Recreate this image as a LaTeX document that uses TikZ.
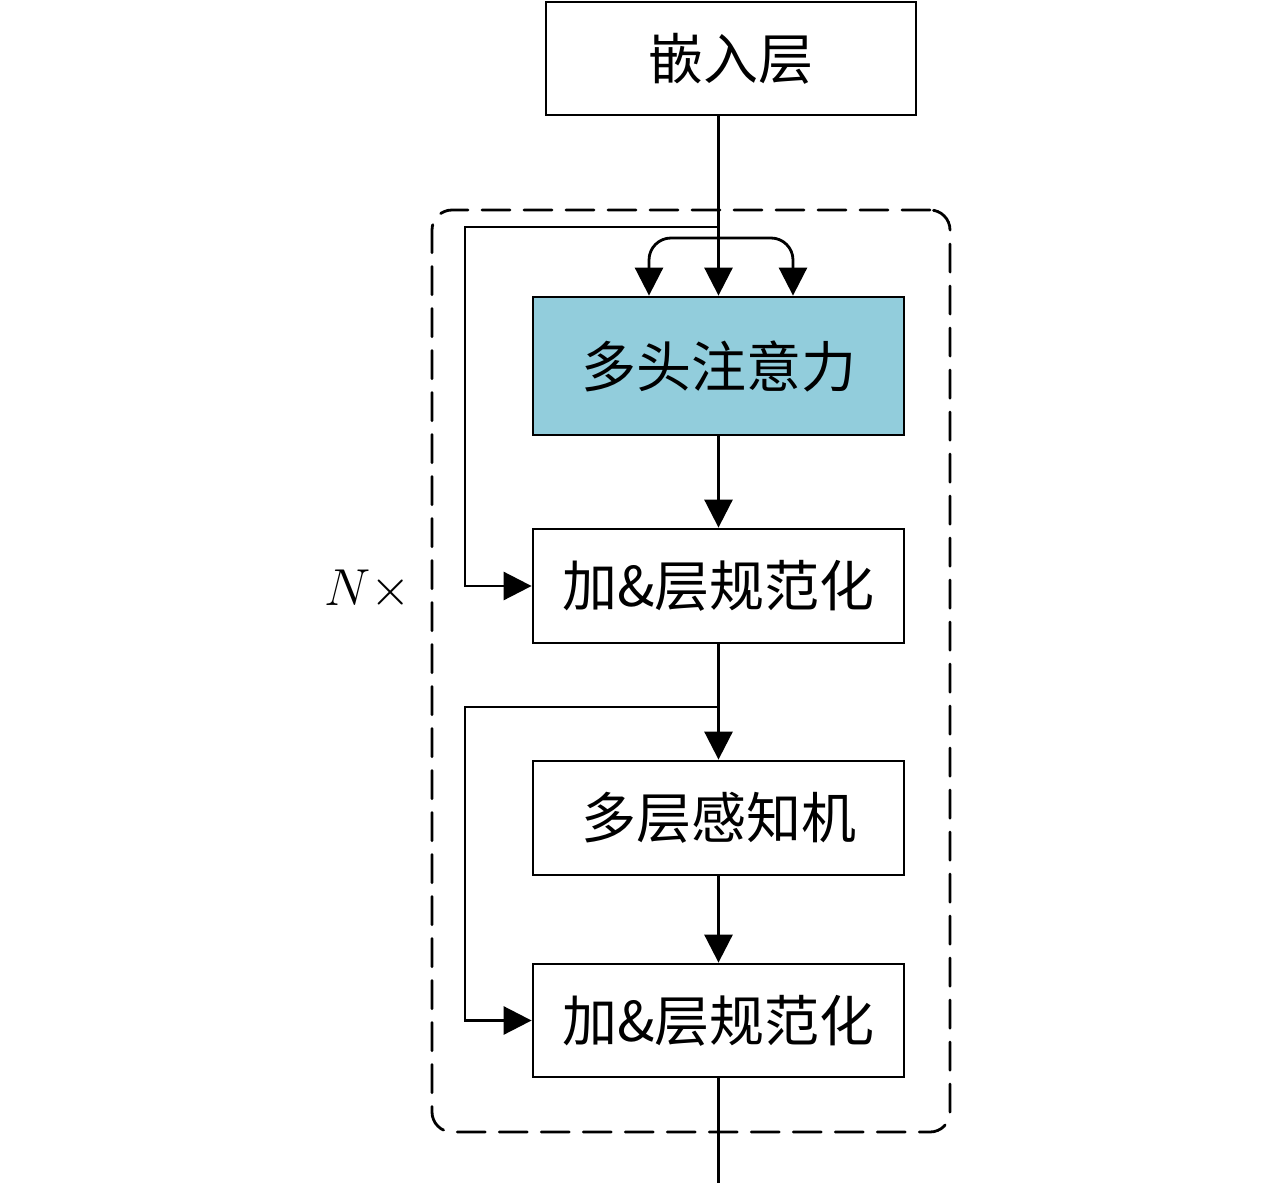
\documentclass[tikz,border=0pt]{standalone}
\usepackage{fix-cm}
\usepackage{fontspec}
\newfontfamily\cjk{Noto Sans CJK SC}
\usetikzlibrary{arrows.meta}
\definecolor{mhafill}{RGB}{146,205,220}
\begin{document}
\begin{tikzpicture}[x=1pt,y=-1pt, line width=2.8pt,
  box/.style={draw, minimum width=371pt, minimum height=114pt, inner sep=0pt,
    font=\cjk\fontsize{55}{66}\selectfont},
  arr/.style={-{Triangle[width=28pt,length=28pt]}},
  frame/.style={draw, dash pattern=on 28pt off 14pt, line cap=round, rounded corners=20pt,
    minimum width=518pt, minimum height=922pt, inner sep=0pt}]
\useasboundingbox (0,0) rectangle (1280,1185);
\node[frame] (fr) at (691,671) {};
\node[box, minimum width=370pt, minimum height=113pt] (emb) at (731,58.5) {嵌入层};
\node[box, fill=mhafill, minimum height=138pt] (mha) at (718.5,366) {多头注意力};
\node[box] (an1) at (718.5,586) {加\&层规范化};
\node[box] (mlp) at (718.5,818) {多层感知机};
\node[box, minimum height=113pt] (an2) at (718.5,1020.5) {加\&层规范化};
\node[font=\fontsize{52}{62}\selectfont] (nx) at (368,590) {$N{\times}$};
\coordinate (s1) at (718.5,227);
\coordinate (k1) at (465,227);
\coordinate (c1) at (718.5,238);
\coordinate (xl) at (649,0);
\coordinate (xr) at (793,0);
\coordinate (s2) at (718.5,707);
\coordinate (k2) at (465,707);
\coordinate (out) at (718.5,1183);
\draw[arr] (emb.south -| mha.north) -- (mha.north);
\draw[arr, rounded corners=22pt] (c1) -| (mha.north -| xl);
\draw[arr, rounded corners=22pt] (c1) -| (mha.north -| xr);
\draw[arr] (s1) -- (k1) |- (an1.west);
\draw[arr] (mha.south) -- (an1.north);
\draw[arr] (an1.south) -- (mlp.north);
\draw[arr] (s2) -- (k2) |- (an2.west);
\draw[arr] (mlp.south) -- (an2.north);
\draw (an2.south) -- (out);
\end{tikzpicture}
\end{document}
